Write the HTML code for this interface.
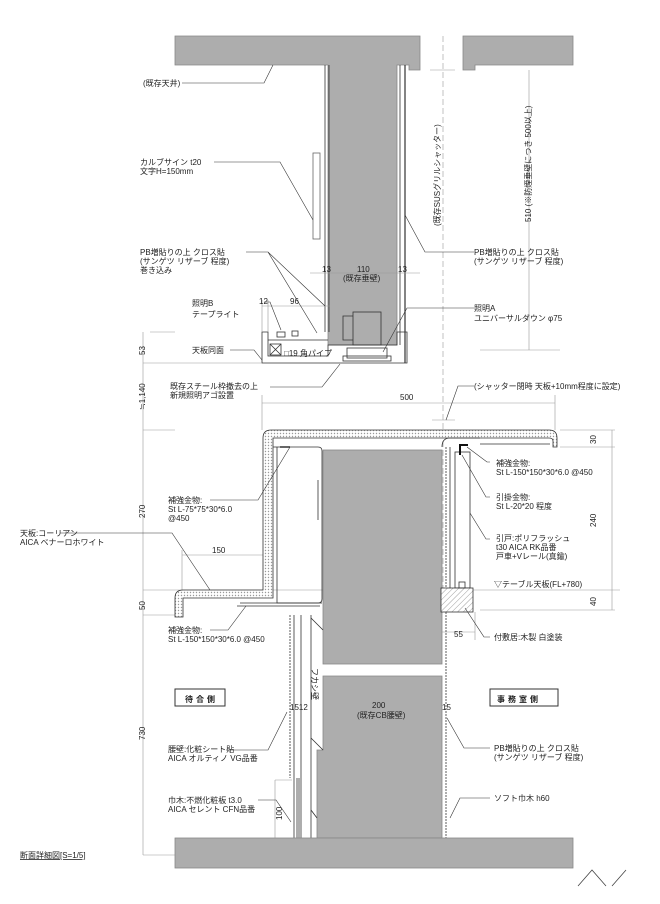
<!DOCTYPE html>
<html><head><meta charset="utf-8"><style>
html,body{margin:0;padding:0;background:#fff}
svg{display:block}
text{font-family:"Liberation Sans","Noto Sans CJK JP",sans-serif;font-size:8px;fill:#222}
</style></head><body>
<svg width="660" height="904" viewBox="0 0 660 904" xmlns="http://www.w3.org/2000/svg">
<defs>
<pattern id="dots" width="3" height="3" patternUnits="userSpaceOnUse"><rect width="3" height="3" fill="#fff"/><circle cx="1.5" cy="1.5" r="0.7" fill="#999"/></pattern>
<pattern id="hatch" width="4" height="4" patternUnits="userSpaceOnUse" patternTransform="rotate(45)"><rect width="4" height="4" fill="#fff"/><line x1="0" y1="0" x2="0" y2="4" stroke="#888" stroke-width="0.8"/></pattern>
</defs>
<g stroke="#333" stroke-width="0.8" fill="none">
<path d="M175 36 H420 V70 H409 V65 H397 V345 H328 V65 H175 Z" fill="#adadad" stroke="#888"/>
<path d="M463 36 H573 V65 H475 V70 H463 Z" fill="#adadad" stroke="#888"/>
<line x1="325" y1="65" x2="325" y2="332"/><line x1="329" y1="65" x2="329" y2="332"/>
<line x1="405" y1="65" x2="405" y2="363" stroke-width="1.2"/><line x1="400" y1="65" x2="400" y2="345"/>
<rect x="313" y="153" width="7" height="86" stroke="#666"/>
<path d="M262 332 H268 V356 H328 V345 H397 V332 H407 V363 H262 Z" stroke="#333"/>
<line x1="268" y1="340" x2="328" y2="340"/>
<rect x="270" y="344" width="11" height="11"/><line x1="270" y1="344" x2="281" y2="355"/><line x1="281" y1="344" x2="270" y2="355"/>
<rect x="277" y="332" width="8" height="5"/><rect x="292" y="331" width="6" height="5"/>
<rect x="353" y="312" width="28" height="33"/><path d="M353 316 H343 V340 H353"/>
<rect x="347" y="348" width="40" height="10"/><rect x="343" y="356" width="48" height="5"/>
<g stroke="#999" stroke-width="0.6">
<line x1="443" y1="36" x2="443" y2="595" stroke-dasharray="6,3"/>
<line x1="430" y1="70" x2="455" y2="70"/>
<line x1="529" y1="70" x2="529" y2="350"/><line x1="480" y1="350" x2="560" y2="350"/>
<line x1="310" y1="273" x2="420" y2="273"/>
<line x1="262" y1="306" x2="330" y2="306"/><line x1="262" y1="300" x2="262" y2="332"/><line x1="268" y1="300" x2="268" y2="332"/>
<line x1="150" y1="332" x2="175" y2="332"/><line x1="143" y1="332" x2="143" y2="855"/>
<line x1="143" y1="363" x2="262" y2="363"/><line x1="143" y1="430" x2="175" y2="430"/>
<line x1="262" y1="403" x2="555" y2="403"/><line x1="262" y1="395" x2="262" y2="430"/><line x1="555" y1="395" x2="555" y2="430"/>
<line x1="143" y1="590" x2="620" y2="590"/><line x1="143" y1="615" x2="175" y2="615"/>
<line x1="143" y1="855" x2="175" y2="855"/>
<line x1="612" y1="430" x2="612" y2="610"/><line x1="560" y1="430" x2="615" y2="430"/><line x1="560" y1="447" x2="615" y2="447"/><line x1="480" y1="610" x2="615" y2="610"/>
<line x1="182" y1="555" x2="265" y2="555"/><line x1="182" y1="550" x2="182" y2="590"/>
<line x1="441" y1="632" x2="475" y2="632"/><line x1="475" y1="612" x2="475" y2="640"/>
<line x1="323" y1="710" x2="442" y2="710"/>
<line x1="275" y1="780" x2="275" y2="838"/><line x1="275" y1="780" x2="292" y2="780"/>
<line x1="432" y1="420" x2="455" y2="420"/>
</g>
<path d="M175 598 Q175 590 183 590 H263 V438 Q263 430 271 430 H549 Q557 430 557 438 V447 H553 V441 Q553 438 549 438 H273 V598 H183 V617 H175 Z" fill="url(#dots)"/>
<path d="M273 447 H318 Q322 447 322 451 V599 Q322 603 318 603 H277 V447" />
<path d="M240 603 H322" /><line x1="237" y1="606" x2="320" y2="606"/>
<line x1="280" y1="447" x2="290" y2="447" stroke-width="1.5"/>
<line x1="550" y1="444" x2="480" y2="444"/>
<rect x="323" y="450" width="119" height="214" fill="#adadad" stroke="#888"/>
<path d="M323 676 H442 V838 H317 V750 L323 750 Z" fill="#adadad" stroke="#888"/>
<line x1="318" y1="480" x2="318" y2="520"/>
<path d="M442 447 Q442 438 450 438 H480"/>
<line x1="446" y1="447" x2="446" y2="838" stroke-dasharray="2,1"/><line x1="450" y1="447" x2="450" y2="588"/>
<rect x="455" y="452" width="15" height="136"/>
<path d="M460 455 V445 H468" stroke-width="2" stroke="#111"/>
<rect x="441" y="588" width="32" height="24" fill="url(#hatch)"/>
<rect x="459" y="582" width="6" height="6"/>
<line x1="290" y1="615" x2="290" y2="778" stroke-dasharray="2,1"/><line x1="294" y1="615" x2="294" y2="838"/>
<line x1="301" y1="615" x2="301" y2="838"/><line x1="311" y1="615" x2="311" y2="838"/>
<path d="M297 778 V838 M299 778 V838" />
<path d="M311 618 L323 630 M311 738 L323 750 M311 810 L317 818"/>
<rect x="175" y="838" width="398" height="30" fill="#adadad" stroke="#888"/>
<g stroke="#333" stroke-width="0.6">
<path d="M182 83 H264 L273 65"/>
<path d="M214 162 H280 L313 220"/>
<path d="M246 252 H268 L325 306 M268 252 L317 333"/>
<path d="M264 302 H270 L281 330"/>
<path d="M230 350 H254 L262 360"/>
<path d="M270 387 H322 L340 364"/>
<path d="M474 252 H425 L405 215"/>
<path d="M474 308 H407 L383 352"/>
<path d="M474 386 H458 L446 420"/>
<path d="M210 500 H258 L290 447"/>
<path d="M490 462 H487 L467 447"/>
<path d="M490 497 H486 L462 455"/>
<path d="M490 539 H486 L470 513"/>
<path d="M60 533 H172 L210 590"/>
<path d="M210 630 H228 L246 606"/>
<path d="M490 637 H484 L465 608"/>
<path d="M226 750 H268 L287 712"/>
<path d="M258 800 H276 L291 822"/>
<path d="M490 748 H464 L447 718"/>
<path d="M490 798 H460 L450 818"/>
</g>
<rect x="175" y="689" width="50" height="17" stroke-width="1"/>
<rect x="490" y="689" width="68" height="17" stroke-width="1"/>
<path d="M578 886 L592 870 L606 886 M612 886 L626 870" stroke="#444"/>
</g>
<text x="143" y="86">(既存天井)</text>
<text x="140" y="165">カルブサイン t20</text><text x="140" y="174">文字H=150mm</text>
<text x="140" y="255">PB増貼りの上 クロス貼</text><text x="140" y="264">(サンゲツ リザーブ 程度)</text><text x="140" y="273">巻き込み</text>
<text x="322" y="272">13</text><text x="357" y="272">110</text><text x="343" y="281">(既存垂壁)</text><text x="398" y="272">13</text>
<text x="259" y="304">12</text><text x="290" y="304">96</text>
<text x="192" y="306">照明B</text><text x="192" y="317">テープライト</text>
<text x="192" y="353">天板同面</text>
<text x="284" y="356" font-size="9">□19 角パイプ</text>
<text x="170" y="389">既存スチール枠撤去の上</text><text x="170" y="398">新規照明アゴ設置</text>
<text x="474" y="255">PB増貼りの上 クロス貼</text><text x="474" y="264">(サンゲツ リザーブ 程度)</text>
<text x="474" y="311">照明A</text><text x="474" y="321">ユニバーサルダウン φ75</text>
<text x="474" y="389">(シャッター閉時 天板+10mm程度に設定)</text>
<text x="400" y="400">500</text>
<text transform="translate(440,226) rotate(-90)">(既存SUSグリルシャッター)</text>
<text transform="translate(531,222) rotate(-90)">510 (※防煙垂壁につき 500以上)</text>
<text transform="translate(145,355) rotate(-90)">53</text>
<text transform="translate(145,410) rotate(-90)">≒1,140</text>
<text transform="translate(145,518) rotate(-90)">270</text>
<text transform="translate(145,610) rotate(-90)">50</text>
<text transform="translate(145,740) rotate(-90)">730</text>
<text transform="translate(596,444) rotate(-90)">30</text>
<text transform="translate(596,527) rotate(-90)">240</text>
<text transform="translate(596,606) rotate(-90)">40</text>
<text x="168" y="503">補強金物:</text><text x="168" y="512">St L-75*75*30*6.0</text><text x="168" y="521">@450</text>
<text x="20" y="536">天板:コーリアン</text><text x="20" y="545">AICA ベナーロホワイト</text>
<text x="212" y="553">150</text>
<text x="496" y="466">補強金物:</text><text x="496" y="475">St L-150*150*30*6.0 @450</text>
<text x="496" y="500">引掛金物:</text><text x="496" y="509">St L-20*20 程度</text>
<text x="496" y="541">引戸:ポリフラッシュ</text><text x="496" y="550">t30 AICA RK品番</text><text x="496" y="559">戸車+Vレール(真鍮)</text>
<text x="494" y="587">▽テーブル天板(FL+780)</text>
<text x="168" y="633">補強金物:</text><text x="168" y="642">St L-150*150*30*6.0 @450</text>
<text x="454" y="637">55</text><text x="494" y="640">付敷居:木製 白塗装</text>
<text transform="translate(312,668) rotate(90)">フカシ壁</text>
<text x="185" y="702" font-size="11" letter-spacing="3" font-weight="bold">待合側</text>
<text x="497" y="702" font-size="11" letter-spacing="3" font-weight="bold">事務室側</text>
<text x="290" y="710">1512</text><text x="372" y="708">200</text><text x="357" y="718">(既存CB腰壁)</text><text x="442" y="710">15</text>
<text x="168" y="752">腰壁:化粧シート貼</text><text x="168" y="761">AICA オルティノ VG品番</text>
<text x="494" y="751">PB増貼りの上 クロス貼</text><text x="494" y="760">(サンゲツ リザーブ 程度)</text>
<text x="168" y="803">巾木:不燃化粧板 t3.0</text><text x="168" y="812">AICA セレント CFN品番</text>
<text transform="translate(282,820) rotate(-90)">100</text>
<text x="494" y="801">ソフト巾木 h60</text>
<text x="20" y="858" font-size="10" text-decoration="underline">断面詳細図[S=1/5]</text>
</svg>
</body></html>
